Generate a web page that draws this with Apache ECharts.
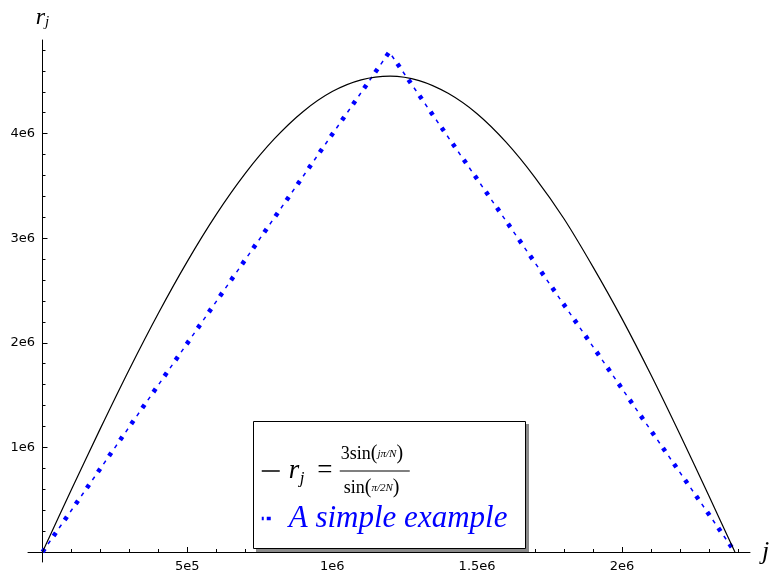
<!DOCTYPE html>
<html><head><meta charset="utf-8">
<script src="https://cdn.jsdelivr.net/npm/echarts@6/dist/echarts.min.js"></script>
<style>html,body{margin:0;padding:0;background:#fff}#c{width:781px;height:582px}</style>
</head><body><div id="c"></div>
<script>
// ---- data ----
const curveJ = [0, 100000, 200000, 300000, 400000, 500000, 600000, 700000, 800000, 900000, 1000000, 1100000, 1200000, 1300000, 1400000, 1500000, 1600000, 1700000, 1800000, 1900000, 2000000, 2100000, 2200000, 2300000, 2390000];
const curveR = [0, 597000, 1182000, 1748000, 2283000, 2779000, 3228000, 3620000, 3949000, 4212000, 4402000, 4514000, 4550000, 4507000, 4385000, 4190000, 3918000, 3580000, 3186000, 2726000, 2231000, 1694000, 1125000, 537000, 0];
const triJ = [0, 1197000, 2390000];
const triR = [0, 4780000, 0];
const xMajorTicks = [500000, 1000000, 1500000, 2000000];
const xMajorLabels = ['5e5', '1e6', '1.5e6', '2e6'];
const xMinorTicks = [100000, 200000, 300000, 400000, 600000, 700000, 800000, 900000, 1100000, 1200000, 1300000, 1400000, 1600000, 1700000, 1800000, 1900000, 2100000, 2200000, 2300000, 2400000];
const yMajorTicks = [1000000, 2000000, 3000000, 4000000];
const yMajorLabels = ['1e6', '2e6', '3e6', '4e6'];
const yMinorTicks = [200000, 400000, 600000, 800000, 1200000, 1400000, 1600000, 1800000, 2200000, 2400000, 2600000, 2800000, 3200000, 3400000, 3600000, 3800000, 4200000, 4400000, 4600000, 4800000];
const seriesNames = ['r_j = 3sin(jπ/N) / sin(π/(2N))', 'A simple example'];
const xName = 'j';

const X_MIN = -50000, X_MAX = 2442000;
const Y_MIN = -95600, Y_MAX = 4895000;
const serif = 'Liberation Serif';

const zip = (a, b) => a.map((v, i) => [v, b[i]]);

const chart = echarts.init(document.getElementById('c'), null, {renderer: 'canvas'});

const baseX = {type: 'value', min: X_MIN, max: X_MAX, position: 'bottom', splitLine: {show: false}};
const baseY = {type: 'value', min: Y_MIN, max: Y_MAX, position: 'left', splitLine: {show: false}};

chart.setOption({
  animation: false,
  backgroundColor: '#fff',
  grid: {left: 28, right: 31, top: 40, bottom: 20, containLabel: false, outerBoundsMode: 'none'},
  xAxis: [
    Object.assign({}, baseX, {
      axisLine: {show: true, onZero: true, lineStyle: {color: '#000', width: 1}},
      axisTick: {show: true, inside: true, length: 5, customValues: xMajorTicks, lineStyle: {color: '#000', width: 1}},
      axisLabel: {show: true, customValues: xMajorTicks, margin: -2, color: '#000', fontSize: 13, fontFamily: 'DejaVu Sans',
        formatter: v => { const i = xMajorTicks.indexOf(v); return i >= 0 ? xMajorLabels[i] : ''; }},
      name: xName, nameLocation: 'end', nameGap: 12,
      nameTextStyle: {fontFamily: serif, fontStyle: 'italic', fontSize: 26, color: '#000', verticalAlign: 'middle'}
    }),
    Object.assign({}, baseX, {
      axisLine: {show: false, onZero: true, onZeroAxisIndex: 0},
      axisTick: {show: true, inside: true, length: 3, customValues: xMinorTicks, lineStyle: {color: '#000', width: 1}},
      axisLabel: {show: false}
    })
  ],
  yAxis: [
    Object.assign({}, baseY, {
      axisLine: {show: true, onZero: true, lineStyle: {color: '#000', width: 1}},
      axisTick: {show: true, inside: true, length: 5, customValues: yMajorTicks, lineStyle: {color: '#000', width: 1}},
      axisLabel: {show: true, customValues: yMajorTicks, margin: -7, color: '#000', fontSize: 13, fontFamily: 'DejaVu Sans',
        formatter: v => { const i = yMajorTicks.indexOf(v); return i >= 0 ? yMajorLabels[i] : ''; }},
      name: '{r|r}{s|j}', nameLocation: 'end', nameGap: 10,
      nameTextStyle: {rich: {
        r: {fontFamily: serif, fontStyle: 'italic', fontSize: 24, color: '#000'},
        s: {fontFamily: serif, fontStyle: 'italic', fontSize: 15, color: '#000', padding: [10, 0, 0, 0]}
      }}
    }),
    Object.assign({}, baseY, {
      axisLine: {show: false, onZero: true, onZeroAxisIndex: 0},
      axisTick: {show: true, inside: true, length: 3, customValues: yMinorTicks, lineStyle: {color: '#000', width: 1}},
      axisLabel: {show: false}
    })
  ],
  graphic: [
    {type: 'rect', z: 10, silent: true, shape: {x: 256, y: 424, width: 273, height: 128}, style: {fill: '#8a8a8a'}},
    {type: 'rect', z: 11, silent: true, shape: {x: 253.5, y: 421.5, width: 272, height: 127}, style: {fill: '#fff', stroke: '#000', lineWidth: 1}}
  ],
  legend: {
    z: 12,
    orient: 'vertical', left: 253, top: 423,
    padding: [21, 10, 10, 7], itemGap: 5, itemWidth: 18, itemHeight: 14,
    selectedMode: false,
    data: [
      {name: seriesNames[0], itemStyle: {opacity: 0}, lineStyle: {color: '#000', width: 1.5, type: 'solid'}},
      {name: seriesNames[1], itemStyle: {opacity: 0}, lineStyle: {color: '#0000ff', width: 3.5, type: [2, 3, 4, 20]}}
    ],
    formatter: function (name) {
      if (name === seriesNames[0]) {
        return '{sp1| }{nb|3sin}{np|(}{ns|jπ/N}{np|)}\n' +
               '{g| }{r|r}{rs|j}{eq|=}{bar| }\n' +
               '{sp3| }{nb|sin}{np|(}{ns|π/2N}{np|)}';
      }
      return '{g| }{ex|' + name + '}';
    },
    textStyle: {
      color: '#000',
      rich: {
        sp1: {width: 56, fontSize: 1, lineHeight: 22},
        sp3: {width: 59, fontSize: 1, lineHeight: 22},
        g: {width: 4, fontSize: 1},
        nb: {fontFamily: serif, fontSize: 18, color: '#000', lineHeight: 22},
        np: {fontFamily: serif, fontSize: 20, color: '#000', lineHeight: 22},
        ns: {fontFamily: serif, fontStyle: 'italic', fontSize: 11, color: '#000', lineHeight: 22},
        r: {fontFamily: serif, fontStyle: 'italic', fontSize: 27, color: '#000', lineHeight: 12, width: 11},
        rs: {fontFamily: serif, fontStyle: 'italic', fontSize: 17, color: '#000', lineHeight: 12, width: 10, padding: [16, 0, 0, 0]},
        eq: {fontFamily: serif, fontSize: 27, color: '#000', lineHeight: 12, width: 30, align: 'center'},
        bar: {width: 70, height: 1, fontSize: 1, backgroundColor: '#000', lineHeight: 12},
        ex: {fontFamily: serif, fontStyle: 'italic', fontSize: 31, color: '#0000ff', lineHeight: 22}
      }
    }
  },
  series: [
    {
      name: seriesNames[0], type: 'line', xAxisIndex: 0, yAxisIndex: 0,
      data: zip(curveJ, curveR), showSymbol: false, symbol: 'none', smooth: 0.3,
      itemStyle: {color: '#000'},
      lineStyle: {color: '#000', width: 1.2}, z: 3
    },
    {
      name: seriesNames[1], type: 'line', xAxisIndex: 0, yAxisIndex: 0,
      data: zip(triJ, triR), showSymbol: false, symbol: 'none',
      itemStyle: {color: '#0000ff'},
      lineStyle: {color: '#0000ff', width: 4.5, type: [4, 15.46], cap: 'butt'}, z: 2
    },
    {
      name: 'dash', type: 'line', xAxisIndex: 0, yAxisIndex: 0,
      data: zip(triJ, triR), showSymbol: false, symbol: 'none',
      itemStyle: {color: '#0000ff'},
      lineStyle: {color: '#0000ff', width: 1.5, type: [4, 15.46], dashOffset: 9.73, cap: 'butt'}, z: 2
    }
  ]
});
</script>
</body></html>
